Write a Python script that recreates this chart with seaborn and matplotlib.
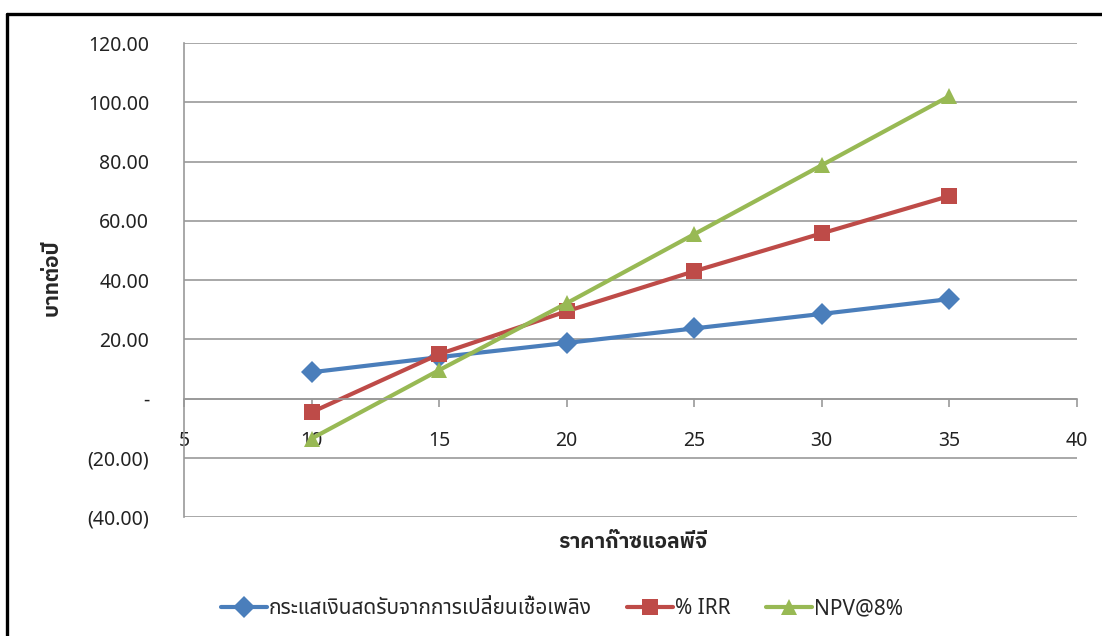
import matplotlib
matplotlib.use("Agg")
import matplotlib.pyplot as plt
from matplotlib.lines import Line2D
from matplotlib.ticker import FuncFormatter
import seaborn as sns
import pandas as pd

# LPG price (baht) vs. values
lpg_price = [10, 15, 20, 25, 30, 35]
cash_flow = [8.9, 14.0, 18.8, 23.7, 28.6, 33.6]
irr = [-4.6, 15.0, 29.5, 43.0, 55.8, 68.4]
npv = [-13.5, 9.6, 32.2, 55.5, 78.8, 102.1]

series_names = ["กระแสเงินสดรับจากการเปลี่ยนเชื้อเพลิง", "% IRR", "NPV@8%"]
colors = ["#4A7EBB", "#BE4B48", "#98B954"]
markers = ["D", "s", "^"]

df = pd.DataFrame({
    "price": lpg_price * 3,
    "value": cash_flow + irr + npv,
    "series": [s for s in series_names for _ in lpg_price],
})

sns.set_style("white")
plt.rcParams["font.family"] = ["Noto Sans Thai", "Noto Sans", "DejaVu Sans"]
bold_family = ["IBM Plex Sans Thai", "Noto Sans Thai", "DejaVu Sans"]

fig = plt.figure(figsize=(11.02, 6.36), dpi=100)
ax = fig.add_axes([0.167, 0.187, 0.810, 0.745])

sns.lineplot(
    data=df, x="price", y="value", hue="series", style="series",
    hue_order=series_names, style_order=series_names,
    palette=colors, markers=markers, dashes=False,
    linewidth=3, markersize=11, markeredgewidth=0,
    legend=True, ax=ax,
)

ax.set_xlim(5, 40)
ax.set_ylim(-40, 120)
ax.set_xticks(range(5, 41, 5))
ax.set_yticks(range(-40, 121, 20))


def fmt_y(v, pos):
    if abs(v) < 1e-9:
        return "-"
    if v < 0:
        return "({:.2f})".format(-v)
    return "{:.2f}".format(v)


ax.yaxis.set_major_formatter(FuncFormatter(fmt_y))
ax.grid(axis="y", color="#999999", linewidth=1.2)
ax.grid(axis="x", visible=False)

for side in ["top", "right"]:
    ax.spines[side].set_visible(False)
ax.spines["left"].set_color("#999999")
ax.spines["left"].set_linewidth(1.2)
ax.spines["bottom"].set_position(("data", 0))
ax.spines["bottom"].set_color("#999999")
ax.spines["bottom"].set_linewidth(1.2)

ax.tick_params(axis="y", length=0, pad=25, labelsize=14, labelcolor="#222222")
ax.tick_params(axis="x", length=6, width=1.2, color="#999999", direction="out",
               pad=17, labelsize=14, labelcolor="#222222", bottom=True)

ax.set_xlabel("")
ax.set_ylabel("")
fig.text(0.574, 0.147, "ราคาก๊าซแอลพีจี", ha="center", va="center",
         fontsize=15, fontweight="bold", family=bold_family)
fig.text(0.047, 0.563, "บาทต่อปี", ha="center", va="center", rotation=90,
         fontsize=15, fontweight="bold", family=bold_family)

handles, labels = ax.get_legend_handles_labels()
ax.get_legend().remove()
fig.legend(handles, labels, loc="center", bbox_to_anchor=(0.51, 0.043), ncol=3,
           frameon=False, fontsize=15, handlelength=2.2, handletextpad=0.1,
           columnspacing=1.7, markerscale=1.0)

# outer chart border (top and left edges visible in the crop)
fig.add_artist(Line2D([0.0064, 1.0], [0.978, 0.978], transform=fig.transFigure,
                      color="black", linewidth=2.4))
fig.add_artist(Line2D([0.0064, 0.0064], [0.0, 0.978], transform=fig.transFigure,
                      color="black", linewidth=2.4))

fig.savefig("out.png", dpi=100)
